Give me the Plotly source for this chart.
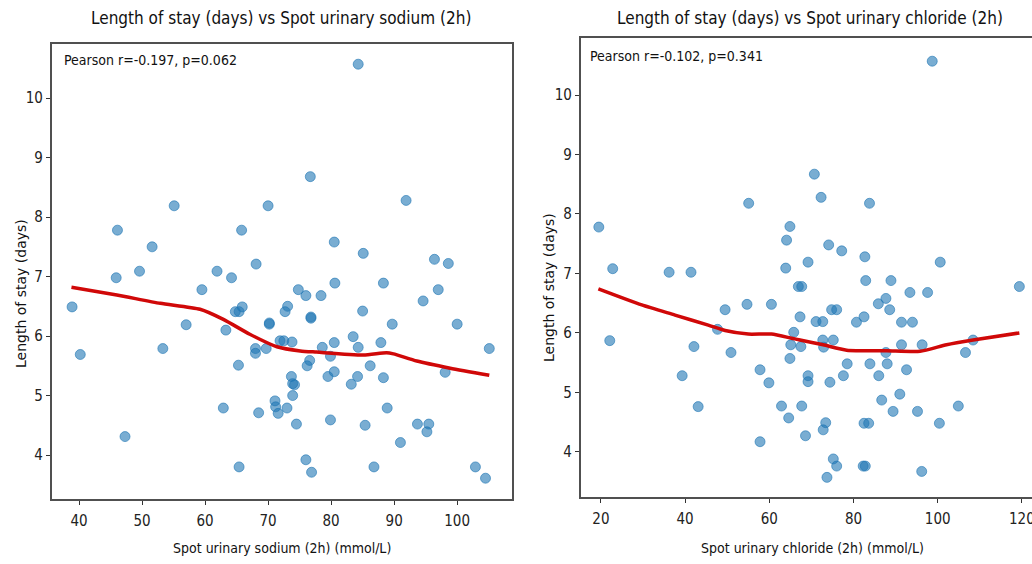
import plotly.graph_objects as go

# ---------------- data ----------------
sodium = [38.9, 40.2, 45.9, 46.1, 47.3, 49.6, 51.6, 53.3, 55.1, 57.0,
          59.5, 61.9, 62.9, 63.3, 64.2, 64.8, 65.3, 65.4, 65.4, 65.8,
          65.9, 68.0, 68.0, 68.1, 68.5, 69.7, 70.0, 70.2, 70.2, 71.1,
          71.2, 71.6, 71.9, 72.5, 72.7, 73.0, 73.1, 73.7, 73.8, 73.9,
          74.2, 73.9, 74.5, 74.8, 76.0, 76.0, 76.2, 76.6, 76.7, 76.8,
          76.8, 76.9, 78.4, 78.6, 79.5, 79.9, 79.9, 80.5, 80.5, 80.5,
          80.6, 83.2, 83.5, 84.2, 84.3, 84.3, 85.0, 85.1, 85.4, 86.2,
          86.8, 87.9, 88.3, 88.3, 88.9, 89.7, 91.0, 91.9, 93.7, 94.6,
          95.2, 95.5, 96.4, 97.0, 98.1, 98.6, 100.0, 102.9, 104.5, 105.1]
los_sodium = [6.49, 5.69, 6.98, 7.78, 4.31, 7.09, 7.50, 5.79, 8.19, 6.19,
              6.78, 7.09, 4.79, 6.10, 6.98, 6.41, 5.51, 6.41, 3.80, 7.78,
              6.49, 5.79, 5.71, 7.21, 4.71, 5.79, 8.19, 6.20, 6.22, 4.91,
              4.81, 4.70, 5.92, 5.92, 6.41, 4.79, 6.50, 5.32, 5.90, 5.20,
              5.18, 5.00, 4.52, 6.78, 6.68, 3.92, 5.50, 5.59, 8.68, 6.30,
              6.32, 3.71, 6.68, 5.81, 5.32, 5.66, 4.59, 7.58, 5.89, 5.40,
              6.89, 5.19, 5.99, 5.32, 5.81, 10.57, 6.42, 7.39, 4.50, 5.50,
              3.80, 5.89, 6.89, 5.30, 4.79, 6.20, 4.21, 8.28, 4.52, 6.59,
              4.39, 4.52, 7.29, 6.78, 5.39, 7.22, 6.20, 3.80, 3.61, 5.79]

lowess_sodium_x = [38.8, 46.0, 52.9, 59.2, 62.9, 67.1, 71.4, 75.1, 77.7,
                   85.1, 88.8, 89.9, 93.6, 98.9, 105.1]
lowess_sodium_y = [6.82, 6.69, 6.55, 6.45, 6.28, 6.03, 5.82, 5.75, 5.73,
                   5.68, 5.72, 5.70, 5.58, 5.46, 5.34]

chloride = [19.5, 22.1, 22.8, 36.2, 39.3, 41.4, 42.1, 43.1, 47.7, 49.5,
            50.9, 54.7, 55.1, 57.8, 57.8, 59.9, 60.5, 62.9, 63.9, 64.1,
            64.6, 64.9, 64.9, 65.1, 65.8, 66.9, 67.3, 67.5, 67.7, 67.7,
            68.6, 69.2, 69.2, 69.2, 70.7, 71.1, 72.3, 72.7, 72.7, 72.9,
            72.8, 73.4, 73.7, 74.1, 74.4, 74.8, 75.2, 75.2, 76.0, 76.0,
            77.2, 77.6, 78.5, 80.7, 82.3, 82.5, 82.5, 82.7, 82.8, 82.9,
            83.6, 83.8, 83.9, 85.9, 86.0, 86.7, 87.7, 87.7, 88.0, 88.6,
            88.9, 89.4, 91.0, 91.4, 91.4, 92.6, 93.4, 94.0, 95.2, 96.2,
            96.3, 97.6, 98.7, 100.4, 100.6, 104.9, 106.6, 108.4, 119.4]
los_chloride = [7.78, 5.87, 7.08, 7.02, 5.28, 7.02, 5.77, 4.76, 6.06, 6.39,
                5.67, 6.48, 8.18, 5.38, 4.17, 5.16, 6.48, 4.77, 7.09, 7.56,
                4.57, 7.79, 5.57, 5.80, 6.01, 6.78, 6.27, 5.77, 6.78, 4.77,
                4.27, 7.19, 5.28, 5.18, 8.67, 6.19, 8.28, 6.19, 5.88, 5.76,
                4.37, 4.49, 3.57, 7.48, 5.17, 6.39, 5.88, 3.88, 6.39, 3.76,
                7.38, 5.28, 5.48, 6.18, 3.76, 6.27, 4.48, 7.28, 3.76, 6.88,
                4.48, 8.18, 5.48, 6.49, 5.28, 4.87, 6.58, 5.67, 5.48, 6.39,
                6.88, 4.68, 4.97, 6.18, 5.80, 5.38, 6.68, 6.18, 4.68, 3.67,
                5.80, 6.68, 10.57, 4.48, 7.19, 4.77, 5.67, 5.88, 6.78]

lowess_chloride_x = [19.4, 29.7, 37.6, 45.5, 49.5, 55.0, 60.5, 65.3, 67.3,
                     72.8, 78.4, 87.9, 95.8, 102.1, 108.4, 119.4]
lowess_chloride_y = [6.74, 6.47, 6.30, 6.13, 6.04, 5.98, 5.98, 5.91, 5.88,
                     5.80, 5.71, 5.70, 5.69, 5.80, 5.88, 6.00]

titles = ["Length of stay (days) vs Spot urinary sodium (2h)",
          "Length of stay (days) vs Spot urinary chloride (2h)"]
xlabels = ["Spot urinary sodium (2h) (mmol/L)",
           "Spot urinary chloride (2h) (mmol/L)"]
ylabel = "Length of stay (days)"
stats = ["Pearson r=-0.197, p=0.062", "Pearson r=-0.102, p=0.341"]

# ---------------- styling ----------------
COND = "DejaVu Sans Condensed, Liberation Sans Narrow, Liberation Sans, sans-serif"
REG = "DejaVu Sans, sans-serif"
PT_COLOR = "rgba(31,119,180,0.6)"
LINE_COLOR = "rgb(208,8,8)"
FRAME = "#505050"

fig = go.Figure()

for xs, ys, lx, ly, xa, ya in [
        (sodium, los_sodium, lowess_sodium_x, lowess_sodium_y, "x", "y"),
        (chloride, los_chloride, lowess_chloride_x, lowess_chloride_y, "x2", "y2")]:
    fig.add_trace(go.Scatter(
        x=xs, y=ys, mode="markers", xaxis=xa, yaxis=ya, showlegend=False,
        marker=dict(size=10, color=PT_COLOR,
                    line=dict(width=1, color=PT_COLOR))))
    fig.add_trace(go.Scatter(
        x=lx, y=ly, mode="lines", xaxis=xa, yaxis=ya, showlegend=False,
        line=dict(color=LINE_COLOR, width=3.5, shape="spline", smoothing=0.6)))

tickfont = dict(family=COND, size=15, color="#222")
common_axis = dict(showgrid=False, zeroline=False, ticks="outside", ticklen=4,
                   tickwidth=1, tickcolor="#333", tickfont=tickfont,
                   linecolor=FRAME, linewidth=1.5, showline=True,
                   automargin=False, ticklabeloverflow="allow")

fig.update_layout(
    width=1032, height=564,
    margin=dict(l=0, r=0, t=0, b=0),
    paper_bgcolor="white", plot_bgcolor="white",
    xaxis=dict(domain=[0.05, 0.4961], range=[35.65, 108.7],
               tickvals=[40, 50, 60, 70, 80, 90, 100], mirror=True,
               anchor="y", ticklabelstandoff=3, **common_axis),
    yaxis=dict(domain=[0.1152, 0.9220], range=[3.26, 10.91],
               tickvals=[4, 5, 6, 7, 8, 9, 10], mirror=True,
               anchor="x", **common_axis),
    xaxis2=dict(domain=[0.5627, 1.0], range=[15.2, 122.4],
                tickvals=[20, 40, 60, 80, 100, 120], mirror=True,
                anchor="y2", ticklabelstandoff=3, **common_axis),
    yaxis2=dict(domain=[0.1188, 0.9326], range=[3.24, 10.96],
                tickvals=[4, 5, 6, 7, 8, 9, 10], mirror=False,
                anchor="x2", **common_axis),
)

ann = []
# titles
for txt, cx in zip(titles, [281, 810]):
    ann.append(dict(text=txt, x=cx / 1032, y=1 - 18 / 564, xref="paper",
                    yref="paper", showarrow=False, xanchor="center",
                    yanchor="middle", font=dict(family=COND, size=17, color="#111")))
# x labels
for txt, cx in zip(xlabels, [282, 812]):
    ann.append(dict(text=txt, x=cx / 1032, y=1 - 548 / 564, xref="paper",
                    yref="paper", showarrow=False, xanchor="center",
                    yanchor="middle", font=dict(family=COND, size=14, color="#111")))
# y labels
for cx, cy in [(21, 294), (549, 288)]:
    ann.append(dict(text=ylabel, x=cx / 1032, y=1 - cy / 564, xref="paper",
                    yref="paper", showarrow=False, xanchor="center",
                    yanchor="middle", textangle=-90,
                    font=dict(family=REG, size=14, color="#111")))
# stats
for txt, lx, cy in zip(stats, [62, 588], [60, 56]):
    ann.append(dict(text=txt, x=lx / 1032, y=1 - cy / 564, xref="paper",
                    yref="paper", showarrow=False, xanchor="left",
                    yanchor="middle", font=dict(family=COND, size=14, color="#111")))
fig.update_layout(annotations=ann)

fig.write_html("out.html")
